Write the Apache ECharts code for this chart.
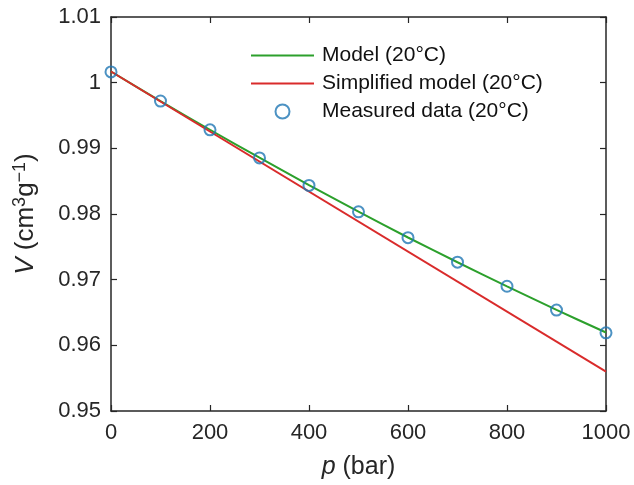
<!DOCTYPE html>
<html>
<head>
<meta charset="utf-8">
<script src="https://cdn.jsdelivr.net/npm/echarts@6/dist/echarts.min.js"></script>
<style>
html,body{margin:0;padding:0;background:#fff;}
#c{width:634px;height:485px;}
</style>
</head>
<body>
<div id="c"></div>
<script>
const pressures = [0, 100, 200, 300, 400, 500, 600, 700, 800, 900, 1000];
const measured = [1.00164, 0.99720, 0.99282, 0.98854, 0.98435, 0.98033, 0.97640, 0.97267, 0.96900, 0.96537, 0.96190];
const model = [1.00170, 0.99718, 0.99283, 0.98857, 0.98440, 0.98035, 0.97642, 0.97265, 0.96898, 0.96540, 0.96195];
const simplifiedP = [0, 1000];
const simplified = [1.00170, 0.95600];
const yTicks = [0.95, 0.96, 0.97, 0.98, 0.99, 1, 1.01];

const FONT = '"Liberation Sans", Arial, Helvetica, sans-serif';
const AX = '#262626';
const LINE_ICON = 'path://M0,0 L0.01,0 L0.01,0.01 Z M0,6 L63,6 L63,8 L0,8 Z M62.99,13.99 L63,13.99 L63,14 Z';
const chart = echarts.init(document.getElementById('c'), null, {renderer: 'canvas'});

const axisCommon = {
  axisLine: {show: true, onZero: false, lineStyle: {color: AX, width: 1.5}},
  axisTick: {show: true, inside: true, length: 6, lineStyle: {color: AX, width: 1.2}},
  splitLine: {show: false}
};

chart.setOption({
  animation: false,
  backgroundColor: '#fff',
  grid: {left: 111, right: 28, top: 17, bottom: 71, containLabel: false},
  legend: {
    orient: 'vertical',
    left: 246, top: 40,
    itemWidth: 63, itemHeight: 14, itemGap: 7,
    textStyle: {fontFamily: FONT, fontSize: 21, color: '#111', padding: [0, 0, 0, 3]},
    data: [
      {name: 'Model (20°C)', icon: LINE_ICON},
      {name: 'Simplified model (20°C)', icon: LINE_ICON},
      {name: 'Measured data (20°C)', icon: 'circle',
        itemStyle: {color: '#fff', borderColor: '#1f77b4', borderWidth: 2}}
    ]
  },
  xAxis: [
    Object.assign({
      type: 'value', min: 0, max: 1000, interval: 200, position: 'bottom',
      axisLabel: {fontFamily: FONT, fontSize: 22, color: '#262626', margin: 11,
        formatter: v => String(v)},
      name: '{i|p} (bar)', nameLocation: 'middle', nameGap: 44,
      nameTextStyle: {fontFamily: FONT, fontSize: 25, color: '#262626',
        rich: {i: {fontStyle: 'italic', fontFamily: FONT, fontSize: 25, color: '#262626'}}}
    }, axisCommon),
    Object.assign({
      type: 'value', min: 0, max: 1000, interval: 200, position: 'top',
      axisLabel: {show: false}
    }, axisCommon)
  ],
  yAxis: [
    Object.assign({
      type: 'value', min: 0.95, max: 1.01, interval: 0.01, position: 'left',
      axisLabel: {fontFamily: FONT, fontSize: 22, color: '#262626', margin: 10,
        formatter: v => String(parseFloat(v.toFixed(2)))},
      name: '{i|V} (cm{s|3}g{s|\u22121})', nameLocation: 'middle', nameGap: 70, nameRotate: 90,
      nameTextStyle: {fontFamily: FONT, fontSize: 26, color: '#262626',
        rich: {
          i: {fontStyle: 'italic', fontFamily: FONT, fontSize: 26, color: '#262626'},
          s: {fontFamily: FONT, fontSize: 18, color: '#262626', verticalAlign: 'top', lineHeight: 30}
        }}
    }, axisCommon),
    Object.assign({
      type: 'value', min: 0.95, max: 1.01, interval: 0.01, position: 'right',
      axisLabel: {show: false}
    }, axisCommon)
  ],
  series: [
    {
      name: 'Model (20°C)', type: 'line', smooth: 0.3, symbol: 'none',
      lineStyle: {color: '#2ca02c', width: 2}, itemStyle: {color: '#2ca02c'},
      data: pressures.map((p, i) => [p, model[i]]), z: 2
    },
    {
      name: 'Simplified model (20°C)', type: 'line', symbol: 'none',
      lineStyle: {color: '#d92b2b', width: 2}, itemStyle: {color: '#d92b2b'},
      data: simplifiedP.map((p, i) => [p, simplified[i]]), z: 2
    },
    {
      name: 'Measured data (20°C)', type: 'scatter', symbol: 'circle', symbolSize: 11,
      itemStyle: {color: 'rgba(0,0,0,0)', borderColor: '#1f77b4', borderWidth: 2},
      data: pressures.map((p, i) => [p, measured[i]]), z: 3
    }
  ]
});
</script>
</body>
</html>
